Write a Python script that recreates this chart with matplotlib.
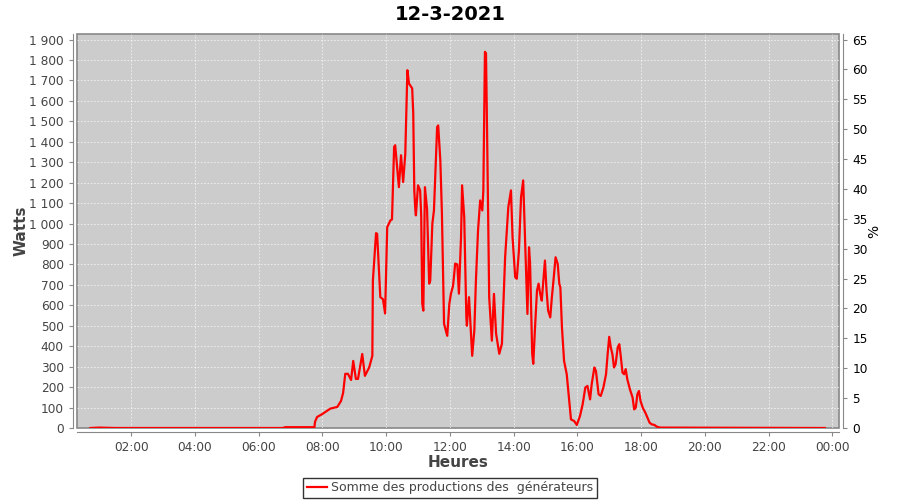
import numpy as np
import matplotlib
matplotlib.use("Agg")
import matplotlib.pyplot as plt

# readings of the day (heure, watts)
times = ["00:43", "01:00", "01:30", "06:45", "06:50", "07:45",
         "07:46", "07:50", "07:59", "08:15", "08:28", "08:35", "08:39", "08:43",
         "08:48", "08:54", "08:58", "09:03", "09:07", "09:15", "09:20", "09:28",
         "09:34", "09:35", "09:41", "09:43", "09:49", "09:54", "09:58", "10:02",
         "10:08", "10:11", "10:15", "10:17", "10:23", "10:24", "10:28", "10:32",
         "10:36", "10:40", "10:43", "10:49", "10:51", "10:53", "10:55", "10:56",
         "11:00", "11:04", "11:06", "11:08", "11:10", "11:13", "11:17", "11:21",
         "11:23", "11:27", "11:30", "11:36", "11:38", "11:42", "11:45", "11:49",
         "11:55", "11:59", "12:02", "12:06", "12:10", "12:14", "12:17", "12:21",
         "12:23", "12:27", "12:31", "12:32", "12:36", "12:38", "12:42", "12:46",
         "12:49", "12:53", "12:57", "13:01", "13:03", "13:06", "13:08", "13:10",
         "13:14", "13:19", "13:23", "13:27", "13:33", "13:38", "13:44", "13:50",
         "13:55", "13:58", "14:03", "14:06", "14:10", "14:14", "14:18", "14:22",
         "14:26", "14:29", "14:31", "14:35", "14:37", "14:40", "14:44", "14:47",
         "14:50", "14:53", "14:56", "14:59", "15:02", "15:05", "15:09", "15:12",
         "15:15", "15:19", "15:23", "15:26", "15:28", "15:31", "15:35", "15:40",
         "15:45", "15:48", "15:54", "15:59", "16:05", "16:10", "16:15", "16:19",
         "16:24", "16:27", "16:32", "16:35", "16:40", "16:44", "16:49", "16:54",
         "16:57", "17:00", "17:03", "17:06", "17:09", "17:12", "17:16", "17:19",
         "17:22", "17:25", "17:28", "17:31", "17:34", "17:39", "17:44", "17:47",
         "17:50", "17:53", "17:56", "17:59", "18:03", "18:08", "18:12", "18:16",
         "18:20", "18:25", "18:30", "18:36", "22:00", "23:46"]
watts = [0, 2, 0, 0, 4, 4,
         30, 54, 67, 95, 103, 132, 172, 265,
         265, 235, 328, 240, 240, 362, 255, 296,
         353, 720, 953, 950, 640, 630, 560, 982,
         1015, 1020, 1375, 1383, 1211, 1178, 1334, 1203,
         1340, 1750, 1685, 1661, 1540, 1162, 1064, 1040,
         1187, 1162, 1040, 608, 574, 1178, 1072, 706,
         720, 1000, 1064, 1472, 1480, 1309, 1049, 510,
         451, 608, 657, 696, 804, 800, 657, 933,
         1187, 1031, 541, 500, 640, 541, 353, 476,
         720, 966, 1113, 1064, 1162, 1840, 1833, 1456,
         640, 427, 656, 461, 363, 412, 835, 1080,
         1162, 933, 737, 730, 868, 1129, 1211, 884,
         558, 884, 804, 363, 314, 476, 672, 706,
         657, 623, 720, 819, 672, 574, 541, 639,
         720, 835, 803, 706, 688, 492, 328, 263,
         124, 42, 34, 15, 59, 116, 198, 206,
         140, 214, 296, 279, 165, 157, 198, 263,
         361, 446, 394, 361, 296, 312, 394, 410,
         345, 271, 263, 288, 239, 189, 149, 91,
         100, 165, 181, 132, 100, 75, 51, 26,
         18, 15, 6, 2, 1, 0]

hours = np.array([int(t[:2]) + int(t[3:]) / 60 for t in times])
watts = np.array(watts)

xticks = list(range(2, 25, 2))
xlabels = ["%02d:00" % (h % 24) for h in xticks]
yticks = list(range(0, 2000, 100))
ylabels = ["{:,}".format(v).replace(",", " ") for v in yticks]
pct_ticks = list(range(0, 70, 5))
w_per_pct = 29.23

grey = "#444444"
fig = plt.figure(figsize=(9, 5), dpi=100)
ax = fig.add_axes([0.0856, 0.144, 0.8466, 0.788])
ax.set_facecolor("#cccccc")
ax.patch.set_edgecolor("#888888")
ax.patch.set_linewidth(1.2)

ax.plot(hours, watts, color="red", lw=1.6, zorder=3,
        label="Somme des productions des  générateurs")

ax.set_xlim(0.30, 24.21)
ax.set_ylim(0, 1927)
ax.set_xticks(xticks)
ax.set_xticklabels(xlabels)
ax.set_yticks(yticks)
ax.set_yticklabels(ylabels)
ax.grid(True, color="white", ls=(0, (2, 2)), lw=0.6, alpha=0.75)
ax.tick_params(colors="#888888", labelcolor=grey, labelsize=8.7, length=3, width=0.8)

for s in ["top", "right"]:
    ax.spines[s].set_visible(False)
for s in ["left", "bottom"]:
    ax.spines[s].set_position(("outward", 3))
    ax.spines[s].set_color("#888888")

ax2 = ax.twinx()
ax2.set_ylim(0, 1927 / w_per_pct)
ax2.set_yticks(pct_ticks)
ax2.tick_params(colors="#888888", labelcolor="black", labelsize=8.7, length=3, width=0.8)
for s in ["top", "left", "bottom"]:
    ax2.spines[s].set_visible(False)
ax2.spines["right"].set_position(("outward", 3))
ax2.spines["right"].set_color("#888888")

ax.set_ylabel("Watts", fontsize=11, fontweight="bold", color=grey, labelpad=0.5)
ax.set_xlabel("Heures", fontsize=11, fontweight="bold", color=grey, labelpad=0.5)
ax2.set_ylabel("%", fontsize=10, color="black", labelpad=0)
fig.suptitle("12-3-2021", fontsize=14, fontweight="bold", y=0.99)

leg = fig.legend(loc="lower center", bbox_to_anchor=(0.5, 0.004), fontsize=9,
                 frameon=True, fancybox=False, edgecolor="black",
                 handlelength=1.6, borderpad=0.3, handletextpad=0.3,
                 borderaxespad=0)
leg.get_frame().set_linewidth(1)
for t in leg.get_texts():
    t.set_color(grey)

fig.savefig("out.png", dpi=100)
